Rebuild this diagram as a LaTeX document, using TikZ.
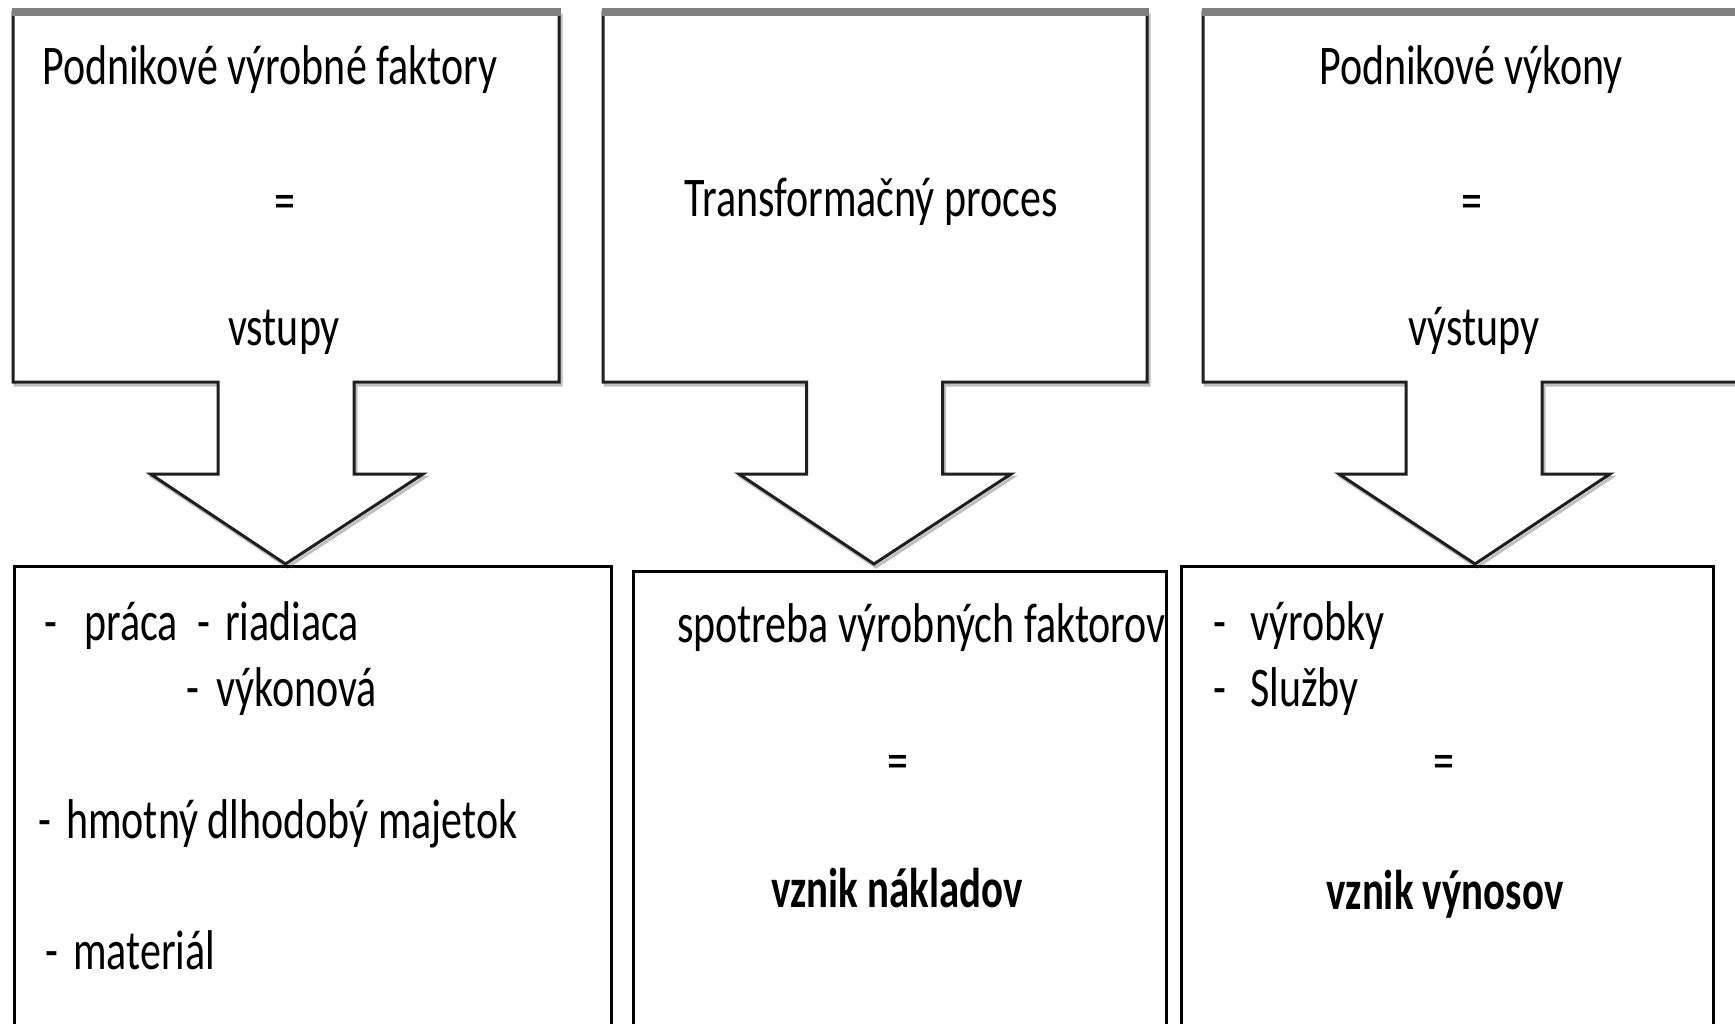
\documentclass[tikz,border=0pt]{standalone}
\usepackage{fontspec}
\newfontfamily\cf[FakeStretch=0.75]{Carlito}
\newfontfamily\cfb[FakeStretch=0.73]{Carlito}
\begin{document}
\begin{tikzpicture}[x=1pt,y=-1pt,
  txt/.style={inner sep=0pt,font=\cf\fontsize{56}{60}\selectfont},
  btxt/.style={txt,font=\cfb\bfseries\fontsize{56}{60}\selectfont},
  topbox/.style={draw=black!88,line width=3pt,fill=white,line join=miter},
  shade/.style={draw=black!25,line width=3pt,line join=miter},
  topband/.style={draw=black!50,line width=8pt},
  botbox/.style={draw=black,line width=3pt}]
\useasboundingbox (0,0) rectangle (1735,1023);
\clip (0,0) rectangle (1735,1023);
\fill[white] (0,0) rectangle (1735,1023);

% ---------- upper callouts (box + down arrow) ----------
\def\calloutpath#1#2#3#4#5#6#7{%
  (#1,382) -- (#1,12) -- (#2,12) -- (#2,382) -- (#4,382) -- (#4,474) -- (#6,474)
  -- (#7,564) -- (#5,474) -- (#3,474) -- (#3,382) -- cycle}
\foreach \a/\b/\c/\d/\e/\f/\g in {13/559/218/354/150.5/423/285.5,
                                  603/1147/806.6/942.7/739/1011/874,
                                  1203/1780/1406/1542/1339/1610/1475}{
  \draw[shade,shift={(2,3)}] \calloutpath{\a}{\b}{\c}{\d}{\e}{\f}{\g};
  \draw[topbox] \calloutpath{\a}{\b}{\c}{\d}{\e}{\f}{\g};
  \draw[topband] (\a-1.5,12) -- (\b+1.5,12);
}

% ---------- lower boxes ----------
\coordinate (b4tl) at (14,566);  \coordinate (b4tr) at (611,566);
\coordinate (b5tl) at (633,571); \coordinate (b5tr) at (1166,571);
\coordinate (b6tl) at (1181,566);\coordinate (b6tr) at (1713,566);
\draw[botbox] (14,1040) -- (b4tl) -- (b4tr) -- (611,1040);
\draw[botbox] (633,1040) -- (b5tl) -- (b5tr) -- (1166,1040);
\draw[botbox] (1181,1040) -- (b6tl) -- (b6tr) -- (1713,1040);

% ---------- texts, upper ----------
\node[txt,anchor=base west] (t1a) at (42,84) {Podnikové výrobné faktory};
\node[txt] (t1b) at (285,207) {=};
\node[txt,anchor=base] (t1c) at (284,345) {vstupy};
\node[txt,anchor=base] (t2a) at (871,216) {Transformačný proces};
\node[txt,anchor=base] (t3a) at (1471,84) {Podnikové výkony};
\node[txt] (t3b) at (1472,207) {=};
\node[txt,anchor=base] (t3c) at (1474,345) {výstupy};

% ---------- texts, lower left ----------
\node[txt,anchor=base west] (d1) at (44,640) {-};
\node[txt,anchor=base west] (l1) at (84,640) {práca};
\node[txt,anchor=base west] (d2) at (197,640) {-};
\node[txt,anchor=base west] (l2) at (225,640) {riadiaca};
\node[txt,anchor=base west] (d3) at (186,706) {-};
\node[txt,anchor=base west] (l3) at (216,706) {výkonová};
\node[txt,anchor=base west] (d4) at (38,838) {-};
\node[txt,anchor=base west] (l4) at (66,838) {hmotný dlhodobý majetok};
\node[txt,anchor=base west] (d5) at (45,969) {-};
\node[txt,anchor=base west] (l5) at (73,969) {materiál};

% ---------- texts, lower middle ----------
\begin{scope}
\clip (633,571) rectangle (1166,1023);
\node[txt,anchor=base west] (m1) at (677,642) {spotreba výrobných faktorov};
\end{scope}
\node[txt] (m2) at (898,767) {=};
\node[btxt,anchor=base] (m3) at (897,907) {vznik nákladov};

% ---------- texts, lower right ----------
\node[txt,anchor=base west] (d6) at (1213,640) {-};
\node[txt,anchor=base west] (r1) at (1250,640) {výrobky};
\node[txt,anchor=base west] (d7) at (1213,706) {-};
\node[txt,anchor=base west] (r2) at (1250,706) {Služby};
\node[txt] (r3) at (1444,767) {=};
\node[btxt,anchor=base] (r4) at (1445,909) {vznik výnosov};
\end{tikzpicture}
\end{document}
